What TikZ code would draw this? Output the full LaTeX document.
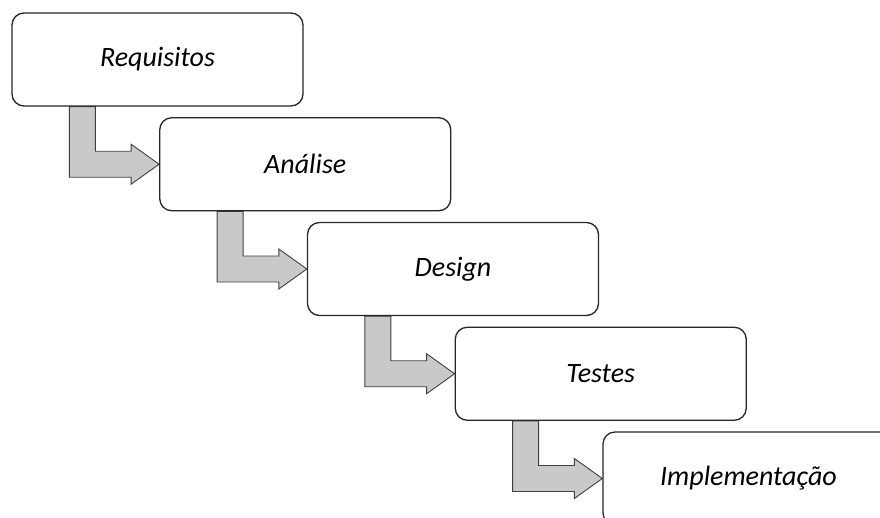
\documentclass[tikz,border=0pt]{standalone}
\usepackage{fontspec}
\setmainfont{Carlito}
\usetikzlibrary{calc,backgrounds}
\definecolor{cinza}{HTML}{C9C9C9}
\definecolor{contorno}{HTML}{404040}
\begin{document}
\begin{tikzpicture}[x=1pt,y=-1pt, font=\itshape\fontsize{28}{32}\selectfont, line join=round,
	etapa/.style={draw=black!85, fill=white, rounded corners=12pt, line width=1.3pt, minimum width=291pt, minimum height=93pt, inner sep=0pt},
	seta/.style={draw=contorno, fill=cinza, line width=0.9pt}]
				\useasboundingbox (0,0) rectangle (880,517);
				\foreach \t [count=\i] in {Requisitos,Análise,Design,Testes,Implementação}
					\node[etapa] (e\i) at ({157.5+147.75*(\i-1)},{59.5+104.75*(\i-1)}) {\t};
				\begin{scope}[on background layer]
				\foreach \a/\b in {e1/e2,e2/e3,e3/e4,e4/e5}
					\draw[seta] ($(\a.south west)+(58,0)$) |- ($(\b.west)+(-28,13)$) -- ++(0,7) -- (\b.west) -- ++(-28,-20) -- ++(0,7) -| ($(\a.south west)+(84,0)$) -- cycle;
				\end{scope}
			\end{tikzpicture}
\end{document}
